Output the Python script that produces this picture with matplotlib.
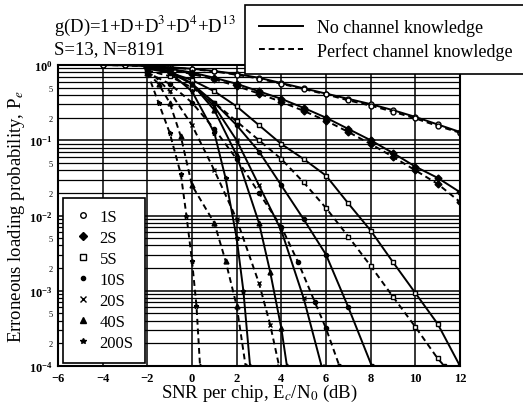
import numpy as np
import matplotlib
matplotlib.use('Agg')
import matplotlib.pyplot as plt
from matplotlib.lines import Line2D

plt.rcParams['font.family'] = 'Liberation Serif'
plt.rcParams['mathtext.fontset'] = 'stix'

# data: SNR (dB) and log10 of the error probability
labels = ['1S', '2S', '5S', '10S', '20S', '40S', '200S']
markers = ['o', 'D', 's', '.', 'x', '^', '*']

snr_1s = [-4, -3, -2, -1, 0, 1, 2, 3, 4, 5, 6, 7, 8, 9, 10, 11, 12]
nk_1s = [0, -0.005, -0.015, -0.03, -0.05, -0.08, -0.12, -0.17, -0.24, -0.31, -0.38, -0.45, -0.52, -0.6, -0.69, -0.79, -0.89]
pk_1s = [0, -0.006, -0.017, -0.033, -0.055, -0.085, -0.13, -0.18, -0.25, -0.32, -0.39, -0.47, -0.54, -0.62, -0.71, -0.81, -0.9]

snr_2s = [-2, -1, 0, 1, 2, 3, 4, 5, 6, 7, 8, 9, 10, 11, 12]
nk_2s = [-0.02, -0.05, -0.1, -0.17, -0.25, -0.35, -0.45, -0.57, -0.7, -0.85, -1.0, -1.17, -1.35, -1.5, -1.69]
pk_2s = [-0.03, -0.06, -0.12, -0.19, -0.28, -0.38, -0.49, -0.61, -0.74, -0.89, -1.05, -1.22, -1.4, -1.58, -1.82]

snr_5s_nk = [-2, -1, 0, 1, 2, 3, 4, 5, 6, 7, 8, 9, 10, 11, 12]
nk_5s = [-0.05, -0.1, -0.2, -0.35, -0.55, -0.8, -1.05, -1.25, -1.47, -1.84, -2.2, -2.62, -3.03, -3.44, -4.0]
snr_5s_pk = [-2, -1, 0, 1, 2, 3, 4, 5, 6, 7, 8, 9, 10, 11, 11.3]
pk_5s = [-0.07, -0.15, -0.3, -0.5, -0.75, -1.0, -1.25, -1.56, -1.9, -2.28, -2.67, -3.08, -3.48, -3.9, -4.0]

snr_10s_nk = [-2, -1, 0, 1, 2, 3, 4, 5, 6, 7, 8.05]
nk_10s = [-0.03, -0.1, -0.25, -0.5, -0.8, -1.15, -1.6, -2.05, -2.52, -3.22, -4.0]
snr_10s_pk = [-2, -1, 0, 1, 2, 3, 4, 4.75, 5.5, 6, 6.6]
pk_10s = [-0.1, -0.25, -0.5, -0.85, -1.25, -1.7, -2.15, -2.62, -3.15, -3.5, -4.0]

snr_20s_nk = [-2, -1, 0, 1, 2, 3, 4, 5, 5.8]
nk_20s = [-0.02, -0.08, -0.25, -0.55, -1.0, -1.6, -2.2, -3.1, -4.0]
snr_20s_pk = [-2, -1, 0, 1, 2, 3, 3.5, 3.9]
pk_20s = [-0.05, -0.35, -0.8, -1.4, -2.05, -2.9, -3.45, -4.0]

snr_40s_nk = [-2, -1, 0, 1, 2, 3, 3.5, 4, 4.25]
nk_40s = [-0.02, -0.08, -0.25, -0.6, -1.2, -2.1, -2.75, -3.5, -4.0]
snr_40s_pk = [-2, -1.5, -1, -0.5, 0, 1, 1.5, 2, 2.4]
pk_40s = [-0.1, -0.25, -0.5, -0.95, -1.6, -2.1, -2.6, -3.2, -4.0]

snr_200s_nk = [-2, -1, 0, 1, 1.5, 2, 2.3, 2.6]
nk_200s = [-0.02, -0.1, -0.35, -0.9, -1.5, -2.3, -3.0, -4.0]
snr_200s_pk = [-2, -1.5, -1, -0.5, -0.25, 0, 0.2, 0.36]
pk_200s = [-0.1, -0.5, -0.9, -1.45, -2.0, -2.6, -3.2, -4.0]

curves = [
    (snr_1s, nk_1s, snr_1s, pk_1s),
    (snr_2s, nk_2s, snr_2s, pk_2s),
    (snr_5s_nk, nk_5s, snr_5s_pk, pk_5s),
    (snr_10s_nk, nk_10s, snr_10s_pk, pk_10s),
    (snr_20s_nk, nk_20s, snr_20s_pk, pk_20s),
    (snr_40s_nk, nk_40s, snr_40s_pk, pk_40s),
    (snr_200s_nk, nk_200s, snr_200s_pk, pk_200s),
]

fig = plt.figure(figsize=(5.23, 4.06), dpi=100)
ax = fig.add_axes([58 / 523, 1 - 367 / 406, 402 / 523, 301 / 406])

for (xn, yn, xp, yp), m in zip(curves, markers):
    mfc = 'white' if m in ('o', 's') else 'black'
    ms = 6 if m == '.' else 3.5
    ax.plot(xn, 10 ** np.array(yn), '-', color='black', lw=1.4,
            marker=m, ms=ms, mfc=mfc, mec='black', mew=1.0)
    ax.plot(xp, 10 ** np.array(yp), color='black', lw=1.4, dashes=(3, 2),
            marker=m, ms=ms, mfc=mfc, mec='black', mew=1.0)

ax.set_yscale('log')
ax.set_xlim(-6, 12)
ax.set_ylim(1e-4, 1)
ax.set_xticks(np.arange(-6, 13, 2))
ax.grid(True, which='major', color='black', lw=1.1)
ax.grid(True, which='minor', axis='y', color='black', lw=0.9)

ax.yaxis.set_minor_formatter(matplotlib.ticker.FuncFormatter(
    lambda v, p: str(int(round(v / 10 ** np.floor(np.log10(v) + 1e-9))))
    if int(round(v / 10 ** np.floor(np.log10(v) + 1e-9))) in (2, 5) else ''))
ax.tick_params(axis='y', which='minor', labelsize=6, length=0, pad=4)
ax.tick_params(axis='both', which='major', labelsize=9, length=0, pad=4)
for t in ax.get_xticklabels() + ax.get_yticklabels():
    t.set_fontweight('bold')
for s in ax.spines.values():
    s.set_linewidth(1.5)

ax.set_xlabel('SNR per chip, E$_c$/N$_0$ (dB)', fontsize=13.5, labelpad=-1)
ax.set_ylabel('Erroneous loading probability, P$_e$', fontsize=13.5, labelpad=1)

fig.text(54 / 523, 1 - 32 / 406, 'g(D)=1+D+D$^3$+D$^4$+D$^{13}$', fontsize=13.5, va='baseline')
fig.text(54 / 523, 1 - 54 / 406, 'S=13, N=8191', fontsize=13.5, va='baseline')

# line style legend (top right)
style_handles = [Line2D([], [], color='black', lw=1.4),
                 Line2D([], [], color='black', lw=1.4, dashes=(3, 2))]
leg1 = fig.legend(style_handles, ['No channel knowledge', 'Perfect channel knowledge'],
                  loc='upper left', bbox_to_anchor=(245 / 523, 1 - 6 / 406),
                  fontsize=13, frameon=True, fancybox=False, framealpha=1,
                  handlelength=2.4, borderpad=0.8, labelspacing=0.3,
                  handletextpad=0.8, borderaxespad=0)
leg1.get_frame().set_edgecolor('black')
leg1.get_frame().set_linewidth(1.2)

# marker legend (lower left)
mk_handles = [Line2D([], [], ls='none', marker=m, color='black',
                     mfc='white' if m in ('o', 's') else 'black',
                     ms=6 if m == '.' else 4) for m in markers]
leg2 = ax.legend(mk_handles, labels, loc='lower left', bbox_to_anchor=(0.012, 0.01),
                 fontsize=12, frameon=True, fancybox=False, framealpha=1,
                 labelspacing=0.3, handlelength=1.0, handletextpad=0.5,
                 borderpad=0.7, borderaxespad=0)
leg2.get_frame().set_edgecolor('black')
leg2.get_frame().set_linewidth(1.2)

fig.savefig('out.png', dpi=100)
